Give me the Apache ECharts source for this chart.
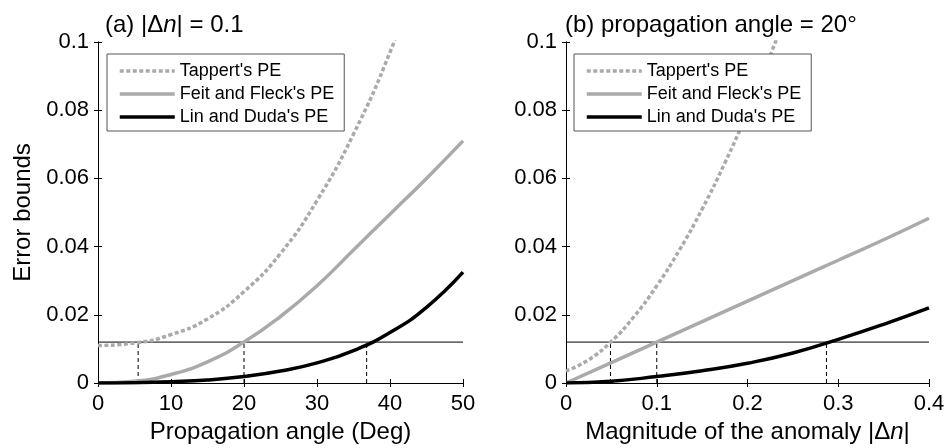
<!DOCTYPE html>
<html>
<head>
<meta charset="utf-8">
<script src="https://cdn.jsdelivr.net/npm/echarts@6/dist/echarts.min.js"></script>
<style>
  html, body { margin: 0; padding: 0; background: #fff; }
  #chart { width: 947px; height: 448px; }
</style>
</head>
<body>
<div id="chart"></div>
<script>
// (a) |dn| = 0.1, error bound vs propagation angle
var angleT = [0, 5, 10, 15, 20, 25, 30, 35, 40, 45];
var tappertA = [0.0110, 0.0117, 0.0142, 0.0188, 0.0268, 0.0380, 0.0535, 0.0730, 0.0970, 0.1260];
var angleDeg = [0, 5, 10, 15, 20, 25, 30, 35, 40, 45, 50];
var feitA = [0, 0.0005, 0.0025, 0.0062, 0.0120, 0.0195, 0.0285, 0.0390, 0.0495, 0.0600, 0.0710];
var linA = [0, 0.0001, 0.0004, 0.0009, 0.0019, 0.0035, 0.0059, 0.0095, 0.0148, 0.0222, 0.0325];

// (b) propagation angle = 20 deg, error bound vs |dn|
var dnT = [0, 0.025, 0.05, 0.075, 0.1, 0.125, 0.15, 0.175, 0.2, 0.225, 0.25];
var tappertB = [0.0035, 0.0068, 0.0122, 0.0195, 0.0285, 0.0390, 0.0510, 0.0645, 0.0795, 0.0960, 0.1140];
var dnVals = [0, 0.05, 0.1, 0.15, 0.2, 0.25, 0.3, 0.35, 0.4];
var feitB = [0, 0.0060, 0.0120, 0.0180, 0.0240, 0.0300, 0.0360, 0.0420, 0.0483];
var linB = [0, 0.0005, 0.0019, 0.0036, 0.0058, 0.0088, 0.0128, 0.0172, 0.0220];

var threshold = 0.012;
var crossA = [5.5, 20, 36.8];
var crossB = [0.049, 0.1, 0.287];

var names = ["Tappert's PE", "Feit and Fleck's PE", "Lin and Duda's PE"];

var FONT = 'Liberation Sans, Arial, sans-serif';
var GRAY = '#aaaaaa';
var TAPPERT_DASH = [4, 2.5];

function zip(xs, ys) {
  return xs.map(function (x, i) { return [x, ys[i]]; });
}

function curve(name, xi, yi, xs, ys, color, dashed) {
  return {
    name: name, type: 'line', xAxisIndex: xi, yAxisIndex: yi,
    data: zip(xs, ys), symbol: 'none', smooth: 0.5, z: 3,
    lineStyle: { color: color, width: 3.5, type: dashed ? TAPPERT_DASH : 'solid' },
    itemStyle: { color: color }
  };
}

function guide(xi, yi, pts) {
  return {
    type: 'line', xAxisIndex: xi, yAxisIndex: yi, data: pts,
    symbol: 'none', silent: true, z: 2,
    lineStyle: { color: '#000', width: 1, type: pts[0][1] === pts[1][1] ? 'solid' : [4, 3] }
  };
}

function xAxes(grid, max, interval, name) {
  return [
    {
      gridIndex: grid, type: 'value', min: 0, max: max, interval: interval, position: 'bottom',
      name: name, nameLocation: 'middle', nameGap: 37,
      nameTextStyle: { color: '#000', fontSize: 24, fontFamily: FONT,
        rich: { i: { fontStyle: 'italic', fontSize: 24, fontFamily: FONT, color: '#000' } } },
      axisLine: { lineStyle: { color: '#000', width: 1 } },
      axisTick: { inside: false, length: 4, lineStyle: { color: '#000' } },
      axisLabel: { color: '#000', fontSize: 22, fontFamily: FONT, margin: 10 },
      splitLine: { show: false }
    },
    {
      gridIndex: grid, type: 'value', min: 0, max: max, interval: interval, position: 'top',
      axisLine: { lineStyle: { color: '#000', width: 1 } },
      axisTick: { inside: false, length: 4, lineStyle: { color: '#000' } },
      axisLabel: { show: false }, splitLine: { show: false }
    }
  ];
}

function yAxes(grid, withName) {
  return [
    {
      gridIndex: grid, type: 'value', min: 0, max: 0.1, interval: 0.02, position: 'left',
      name: withName ? 'Error bounds' : '', nameLocation: 'middle', nameGap: 63,
      nameTextStyle: { color: '#000', fontSize: 24, fontFamily: FONT },
      axisLine: { lineStyle: { color: '#000', width: 1 } },
      axisTick: { inside: false, length: 4, lineStyle: { color: '#000' } },
      axisLabel: { color: '#000', fontSize: 22, fontFamily: FONT, margin: 9 },
      splitLine: { show: false }
    },
    {
      gridIndex: grid, type: 'value', min: 0, max: 0.1, interval: 0.02, position: 'right',
      axisLine: { lineStyle: { color: '#000', width: 1 } },
      axisTick: { inside: false, length: 4, lineStyle: { color: '#000' } },
      axisLabel: { show: false }, splitLine: { show: false }
    }
  ];
}

function legendAt(left) {
  var look = [
    { color: GRAY, type: TAPPERT_DASH },
    { color: GRAY, type: 'solid' },
    { color: '#000', type: 'solid' }
  ];
  return {
    data: names.map(function (n, i) {
      return {
        name: n,
        itemStyle: { opacity: 0 },
        lineStyle: { color: look[i].color, type: look[i].type, width: 3.5 }
      };
    }),
    orient: 'vertical', left: left, top: 54,
    backgroundColor: '#fff', borderColor: '#555', borderWidth: 1, borderRadius: 0,
    padding: [8, 10, 5, 11], itemGap: 5, itemWidth: 55, itemHeight: 14,
    selectedMode: false,
    textStyle: { color: '#000', fontSize: 18, fontFamily: FONT }
  };
}

var series = [
  curve(names[0], 0, 0, angleT, tappertA, GRAY, true),
  curve(names[1], 0, 0, angleDeg, feitA, GRAY, false),
  curve(names[2], 0, 0, angleDeg, linA, '#000', false),
  curve(names[0], 2, 2, dnT, tappertB, GRAY, true),
  curve(names[1], 2, 2, dnVals, feitB, GRAY, false),
  curve(names[2], 2, 2, dnVals, linB, '#000', false),
  guide(0, 0, [[0, threshold], [50, threshold]]),
  guide(2, 2, [[0, threshold], [0.4, threshold]])
];
crossA.forEach(function (c) { series.push(guide(0, 0, [[c, 0], [c, threshold]])); });
crossB.forEach(function (c) { series.push(guide(2, 2, [[c, 0], [c, threshold]])); });

var chart = echarts.init(document.getElementById('chart'));
chart.setOption({
  backgroundColor: '#fff',
  animation: false,
  title: [
    {
      text: '(a) |Δ{i|n}| = 0.1', left: 105, top: 13, padding: 0,
      textStyle: { color: '#000', fontSize: 24, fontWeight: 'normal', fontFamily: FONT,
        rich: { i: { fontStyle: 'italic', fontSize: 24, fontFamily: FONT, color: '#000' } } }
    },
    {
      text: '(b) propagation angle = 20°', left: 565, top: 13, padding: 0,
      textStyle: { color: '#000', fontSize: 24, fontWeight: 'normal', fontFamily: FONT }
    }
  ],
  legend: [legendAt(107), legendAt(574)],
  grid: [
    { left: 98, right: 484, top: 42, bottom: 65, outerBoundsMode: 'none' },
    { left: 566, right: 18, top: 42, bottom: 65, outerBoundsMode: 'none' }
  ],
  xAxis: xAxes(0, 50, 10, 'Propagation angle (Deg)')
    .concat(xAxes(1, 0.4, 0.1, 'Magnitude of the anomaly |Δ{i|n}|')),
  yAxis: yAxes(0, true).concat(yAxes(1, false)),
  series: series
});
</script>
</body>
</html>
